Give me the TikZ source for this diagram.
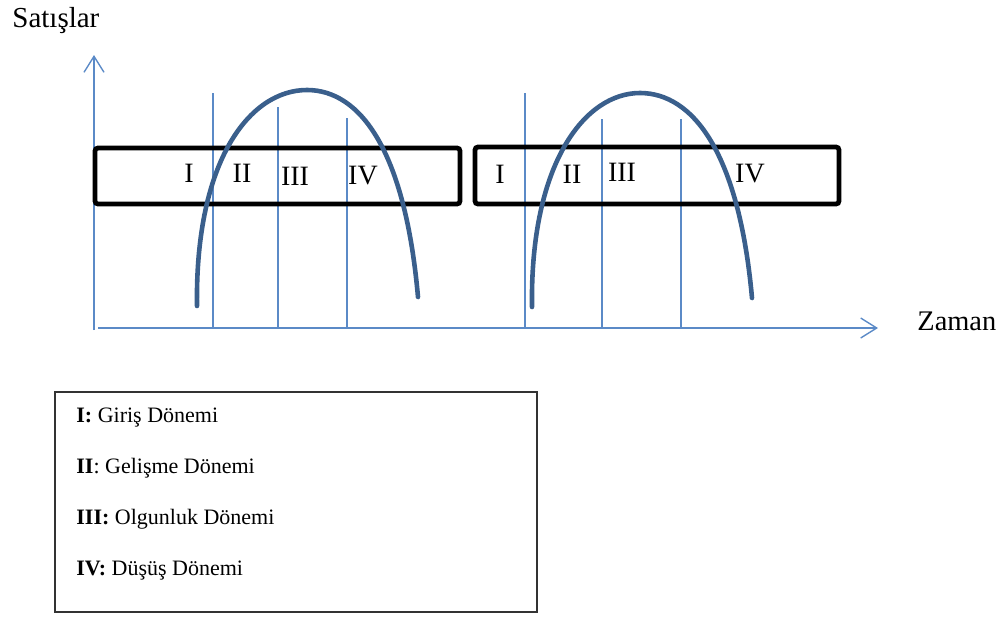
\documentclass[tikz,border=0pt]{standalone}
\usepackage{fontspec}
\setmainfont{Liberation Serif}
\usetikzlibrary{arrows.meta}
\definecolor{axisblue}{RGB}{91,138,199}
\definecolor{curveblue}{RGB}{58,95,140}
\begin{document}
\begin{tikzpicture}[x=0.5pt,y=-0.5pt,
  axis/.style={draw=axisblue, line width=0.7pt},
  stage/.style={draw=axisblue, line width=0.6pt},
  phasebox/.style={draw=black, line width=2.4pt, rounded corners=1.5pt},
  curve/.style={draw=curveblue, line width=2.3pt, line cap=round},
  lbl/.style={inner sep=0pt, font=\fontsize{14}{16}\selectfont},
  key/.style={anchor=base west, inner sep=0pt, font=\fontsize{11}{13}\selectfont}]
\useasboundingbox (0,0) rectangle (1008,617);

\coordinate (O) at (94,330);
\coordinate (ytop) at (94,55);
\coordinate (xstart) at (98,328);
\coordinate (xend) at (878,328);
\draw[axis,-{Straight Barb[length=8pt,width=10pt]}] (O) -- (ytop);
\draw[axis,-{Straight Barb[length=8pt,width=10pt]}] (xstart) -- (xend);
\node[anchor=base west, inner sep=0pt, font=\fontsize{14.5}{17}\selectfont] (ylabel) at (12,27) {Satışlar};
\node[anchor=base west, inner sep=0pt, font=\fontsize{14.2}{17}\selectfont] (xlabel) at (917,330) {Zaman};

\foreach \x/\y in {213/93, 278/107, 347/118, 525/93, 602/119, 681/119}
  \draw[stage] (\x,\y) -- (\x,329);

\draw[phasebox] (95,148) rectangle (460,204);
\draw[phasebox] (475,147) rectangle (839,204);

\node[lbl] (l1) at (189,173) {I};
\node[lbl] (l2) at (242,173) {II};
\node[lbl] (l3) at (295,176) {III};
\node[lbl] (l4) at (363,176) {IV};
\node[lbl] (r1) at (500,174) {I};
\node[lbl] (r2) at (572,174) {II};
\node[lbl] (r3) at (622,172) {III};
\node[lbl] (r4) at (750,174) {IV};

\draw[curve] (197,306) .. controls (195,160) and (250,90) .. (307,90)
  .. controls (360,90) and (405,150) .. (418,297);
\draw[curve] (532,307) .. controls (530,163) and (585,93) .. (640,93)
  .. controls (693,93) and (739,153) .. (752,298);

\draw[draw=black!80, line width=0.8pt] (55,392) rectangle (537,612);
\node[key] (k1) at (76,422) {\textbf{I:} Giriş Dönemi};
\node[key] (k2) at (76,473) {\textbf{II}: Gelişme Dönemi};
\node[key] (k3) at (76,524) {\textbf{III:} Olgunluk Dönemi};
\node[key] (k4) at (76,575) {\textbf{IV:} Düşüş Dönemi};
\end{tikzpicture}
\end{document}
